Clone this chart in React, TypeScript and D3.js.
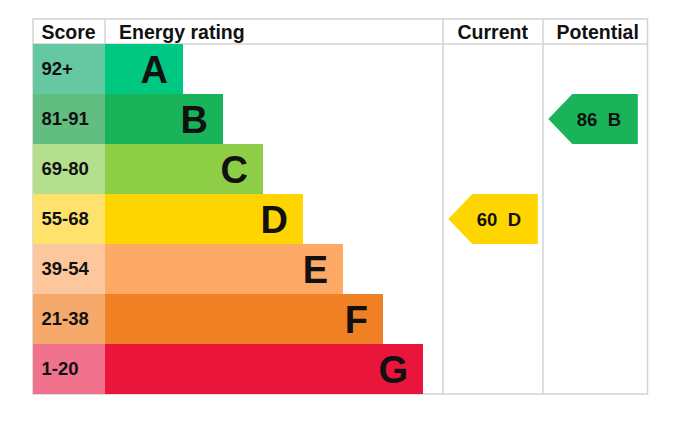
import React from 'react';
import * as d3 from 'd3';

const headers = ['Score', 'Energy rating', 'Current', 'Potential'];
const bands = ['A', 'B', 'C', 'D', 'E', 'F', 'G'];
const scoreRanges = ['92+', '81-91', '69-80', '55-68', '39-54', '21-38', '1-20'];
const bandColors = ['#00c781', '#19b459', '#8dce46', '#ffd500', '#fcaa65', '#ef8023', '#e9153b'];
const scoreColors = ['#66c8a2', '#62bd80', '#b4df8c', '#ffe26c', '#fdc79e', '#f5aa6b', '#f0728c'];
const currentScore = 60;
const currentBand = 'D';
const potentialScore = 86;
const potentialBand = 'B';

const W = 687;
const H = 428;
const FONT = '"Liberation Sans", Arial, Helvetica, sans-serif';
const GRID = '#d3d3d3';

export default function App() {
  const left = 33;
  const right = 647.5;
  const top = 19;
  const headerBottom = 44;
  const bottom = 394;
  const colScoreEnd = 105;
  const colCurrent = 443;
  const colPotential = 543;

  const y = d3.scaleBand<string>().domain(bands).range([headerBottom, bottom]).padding(0);
  const barEnd = d3.scaleLinear().domain([0, bands.length - 1]).range([183, 423]);
  const bh = y.bandwidth();

  const arrow = (x0: number, band: string) => {
    const t = y(band)!;
    const b = t + bh;
    const cy = t + bh / 2;
    const tip = 24;
    const len = 89.5;
    const path = d3.path();
    path.moveTo(x0, cy);
    path.lineTo(x0 + tip, t);
    path.lineTo(x0 + len, t);
    path.lineTo(x0 + len, b);
    path.lineTo(x0 + tip, b);
    path.closePath();
    return { d: path.toString(), tx: x0 + tip + 4.5, ty: cy + 6.5 };
  };

  const cur = arrow(colCurrent + 5.3, currentBand);
  const pot = arrow(colPotential + 5.3, potentialBand);

  const headerX = [41.5, 119, 457.5, 556.5];

  return (
    <svg
      width={W}
      height={H}
      style={{ position: 'absolute', left: 0, top: 0, background: '#fff' }}
      fontFamily={FONT}
    >
      <rect x={0} y={0} width={W} height={H} fill="#fff" />
      {/* grid */}
      <rect x={left} y={top} width={right - left} height={bottom - top} fill="none" stroke={GRID} strokeWidth={1.5} />
      <line x1={left} x2={right} y1={headerBottom} y2={headerBottom} stroke={GRID} strokeWidth={1.5} />
      <line x1={colScoreEnd} x2={colScoreEnd} y1={top} y2={headerBottom} stroke={GRID} strokeWidth={1.5} />
      <line x1={colCurrent} x2={colCurrent} y1={top} y2={bottom} stroke={GRID} strokeWidth={1.5} />
      <line x1={colPotential} x2={colPotential} y1={top} y2={bottom} stroke={GRID} strokeWidth={1.5} />

      {headers.map((h, i) => (
        <text key={h} x={headerX[i]} y={39} fontSize={19.5} fontWeight="bold" fill="#111">
          {h}
        </text>
      ))}

      {bands.map((b, i) => (
        <g key={b}>
          <rect x={left} y={y(b)!} width={colScoreEnd - left} height={bh} fill={scoreColors[i]} />
          <rect x={colScoreEnd} y={y(b)!} width={barEnd(i) - colScoreEnd} height={bh} fill={bandColors[i]} />
          <text x={41.5} y={y(b)! + bh / 2 + 6} fontSize={18.5} fontWeight="bold" fill="#111">
            {scoreRanges[i]}
          </text>
          <text x={barEnd(i) - 15} y={y(b)! + bh / 2 + 14} fontSize={38} fontWeight="bold" fill="#111" textAnchor="end">
            {b}
          </text>
        </g>
      ))}

      <path d={cur.d} fill={bandColors[bands.indexOf(currentBand)]} />
      <text x={cur.tx} y={cur.ty} fontSize={18.5} fontWeight="bold" fill="#111" style={{ whiteSpace: 'pre' }}>
        {`${currentScore}  ${currentBand}`}
      </text>
      <path d={pot.d} fill={bandColors[bands.indexOf(potentialBand)]} />
      <text x={pot.tx} y={pot.ty} fontSize={18.5} fontWeight="bold" fill="#111" style={{ whiteSpace: 'pre' }}>
        {`${potentialScore}  ${potentialBand}`}
      </text>
    </svg>
  );
}
